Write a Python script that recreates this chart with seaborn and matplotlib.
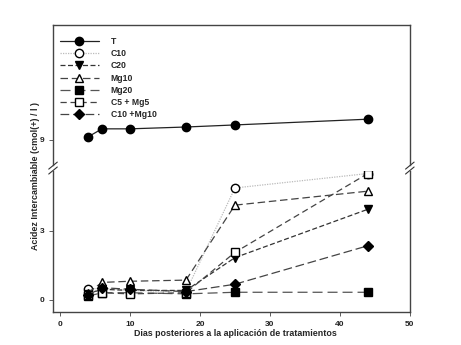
import numpy as np
import pandas as pd
import matplotlib
matplotlib.use("Agg")
import matplotlib.pyplot as plt
import seaborn as sns

sns.set_style("ticks")
plt.rcParams['font.family'] = ['Liberation Sans', 'DejaVu Sans']
plt.rcParams['font.weight'] = 'bold'

# data
dias = [4, 6, 10, 18, 25, 44]
T = [9.13, 9.48, 9.48, 9.56, 9.65, 9.9]
C10 = [0.45, 0.50, 0.40, 0.35, 4.87, 5.50]
C20 = [0.25, 0.45, 0.40, 0.40, 1.83, 3.94]
Mg10 = [0.30, 0.75, 0.80, 0.85, 4.12, 4.73]
Mg20 = [0.15, 0.30, 0.30, 0.25, 0.32, 0.32]
C5_Mg5 = [0.20, 0.30, 0.25, 0.30, 2.06, 5.50]
C10_Mg10 = [0.20, 0.52, 0.45, 0.35, 0.67, 2.35]

labels = ["T", "C10", "C20", "Mg10", "Mg20", "C5 + Mg5", "C10 +Mg10"]
series = [T, C10, C20, Mg10, Mg20, C5_Mg5, C10_Mg10]
markers = ["o", "o", "v", "^", "s", "s", "D"]
faces = ["black", "white", "black", "white", "black", "white", "black"]
msizes = [6, 6, 6, 6, 5.5, 6, 5.5]
lstyles = ["-", (0, (1, 1)), (0, (4, 2)), (0, (6, 3)), (0, (8, 4)), (0, (5, 3)), (0, (7, 3))]
lcolors = ["#222222", "#bbbbbb", "#333333", "#444444", "#555555", "#444444", "#444444"]

fig = plt.figure(figsize=(4.61, 3.45), dpi=100)
ax_top = fig.add_axes([0.115, 0.522, 0.774, 0.4055])
ax_bot = fig.add_axes([0.115, 0.0957, 0.774, 0.408])

handles = []
for lab, vals, mk, fc, ms, ls, lc in zip(labels, series, markers, faces, msizes, lstyles, lcolors):
    df = pd.DataFrame({"x": dias, "y": vals})
    for ax in (ax_top, ax_bot):
        sns.lineplot(data=df, x="x", y="y", ax=ax, color=lc, linestyle=ls, linewidth=0.9,
                     marker=mk, markersize=ms, markerfacecolor=fc, markeredgecolor="black",
                     markeredgewidth=1.0, legend=False)
    h, = ax_top.plot([], [], color=lc, linestyle=ls, linewidth=0.9, marker=mk, markersize=ms,
                     markerfacecolor=fc, markeredgecolor="black", markeredgewidth=1.0)
    handles.append(h)

ax_top.set_ylim(7.91, 14.0)
ax_bot.set_ylim(-0.54, 5.6)
for ax in (ax_top, ax_bot):
    ax.set_xlim(-1, 50)
    ax.set_xlabel("")
    ax.set_ylabel("")
    for s in ax.spines.values():
        s.set_color("#444444")
        s.set_linewidth(1.0)
    ax.tick_params(colors="#444444", labelcolor="#222222", labelsize=6, length=3, width=0.6)

ax_top.spines['bottom'].set_visible(False)
ax_top.spines['right'].set_visible(True)
ax_top.spines['top'].set_visible(True)
ax_top.set_yticks([9])
ax_top.tick_params(axis='x', bottom=False, labelbottom=False)

ax_bot.spines['top'].set_visible(False)
ax_bot.spines['right'].set_visible(True)
ax_bot.set_yticks([0, 3])
ax_bot.set_xticks([0, 10, 20, 30, 40, 50])
for lbl in ax_bot.get_xticklabels() + ax_bot.get_yticklabels() + ax_top.get_yticklabels():
    lbl.set_fontweight("bold")

# break marks
d = 0.012
kw = dict(color="#333333", linewidth=0.8, clip_on=False)
for xx in (0, 1):
    ax_top.plot([xx - d, xx + d], [-0.03, 0.02], transform=ax_top.transAxes, **kw)
    ax_bot.plot([xx - d, xx + d], [0.98, 1.03], transform=ax_bot.transAxes, **kw)

leg = ax_top.legend(handles, labels, loc="upper left", bbox_to_anchor=(0.0, 0.965),
                    frameon=False, fontsize=6.2, handlelength=4.5, labelspacing=0.38,
                    handletextpad=1.4, borderaxespad=0.4)
for t in leg.get_texts():
    t.set_fontweight("bold")

fig.text(0.076, 0.49, "Acidez Intercambiable (cmol(+) / l )", rotation=90,
         ha="center", va="center", fontsize=6.4, fontweight="bold")
fig.text(0.51, 0.032, "Dias posteriores a la aplicación de tratamientos",
         ha="center", va="center", fontsize=6.4, fontweight="bold")

fig.savefig("out.png", dpi=100)
